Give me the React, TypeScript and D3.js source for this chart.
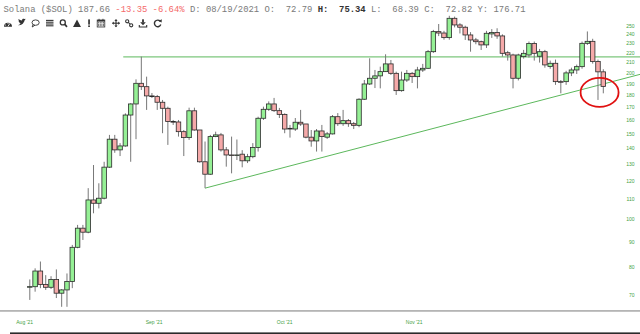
import React from "react";
import * as d3 from "d3";

// Daily OHLC, SOL/USD, starting 08/19/2021
const open = [
  72.79, 72.8, 78.4, 73.6, 72.6, 75.3, 70.6, 71.7, 74.6, 87.7,
  96.0, 94.2, 109.7, 108.0, 110.6, 128.1, 146.2, 139.0, 141.6, 163.9,
  172.7, 190.4, 187.4, 179.4, 178.8, 174.1, 169.2, 158.9, 158.6, 151.5,
  147.3, 167.2, 152.7, 131.4, 123.9, 148.0, 149.2, 139.0, 135.7, 135.5,
  136.2, 132.0, 134.6, 140.6, 161.4, 168.4, 172.7, 167.3, 164.4, 153.4,
  153.4, 158.4, 157.1, 147.6, 145.0, 152.0, 147.6, 149.9, 162.6, 157.3,
  159.6, 157.3, 156.1, 176.6, 189.8, 195.0, 197.2, 201.2, 208.7, 199.6,
  183.9, 193.4, 199.6, 196.5, 202.8, 204.4, 221.1, 243.1, 241.5, 236.3,
  258.9, 250.9, 248.2, 239.3, 233.7, 231.8, 228.3, 240.5, 242.0, 238.2,
  220.0, 217.7, 195.0, 216.0, 217.7, 229.9, 216.4, 221.1, 206.1, 209.3,
  191.9, 191.9, 200.0, 202.8, 206.0, 230.0, 232.2, 211.1, 201.01,
];
const high = [
  75.34, 79.4, 82.0, 76.9, 76.5, 79.0, 72.0, 77.5, 88.7, 97.5,
  97.5, 116.0, 129.4, 118.7, 131.4, 149.2, 149.2, 143.5, 165.2, 173.3,
  194.0, 216.0, 196.5, 181.9, 180.2, 176.0, 170.5, 160.1, 160.1, 152.7,
  169.7, 169.7, 152.7, 144.6, 149.2, 151.5, 150.6, 140.9, 148.0, 146.0,
  138.8, 136.4, 143.5, 162.6, 170.5, 174.8, 177.7, 169.5, 165.2, 156.4,
  161.6, 167.9, 157.1, 152.7, 153.4, 156.4, 151.3, 163.9, 165.4, 167.9,
  160.8, 158.6, 177.4, 193.4, 214.3, 202.8, 206.0, 218.4, 212.6, 201.2,
  201.2, 202.8, 200.9, 205.8, 208.7, 222.9, 245.1, 252.0, 244.0, 262.0,
  261.0, 253.0, 250.0, 242.5, 236.0, 233.0, 244.0, 246.0, 247.0, 240.0,
  222.0, 219.0, 219.0, 223.0, 232.0, 232.0, 224.0, 223.0, 212.0, 213.0,
  193.4, 202.0, 205.0, 208.0, 232.0, 243.3, 235.0, 213.0, 203.5,
];
const low = [
  68.39, 71.1, 72.3, 71.7, 72.0, 69.0, 66.2, 66.2, 72.3, 87.3,
  90.8, 93.7, 103.0, 105.4, 110.0, 127.6, 137.1, 135.0, 141.1, 131.4,
  146.2, 184.5, 167.9, 177.6, 167.9, 150.4, 142.3, 156.4, 148.0, 135.0,
  145.7, 152.2, 130.8, 116.0, 123.5, 147.6, 137.9, 128.4, 124.4, 132.5,
  128.0, 130.6, 133.6, 137.9, 160.1, 167.1, 166.3, 161.6, 150.4, 147.3,
  152.0, 155.7, 146.8, 141.1, 137.9, 137.9, 146.4, 149.5, 155.7, 155.7,
  155.0, 153.4, 154.7, 176.0, 188.9, 186.2, 185.9, 200.9, 198.1, 180.2,
  183.0, 191.6, 190.7, 185.9, 200.9, 203.8, 219.8, 238.0, 234.0, 234.0,
  248.0, 241.0, 233.7, 221.1, 229.0, 222.9, 225.0, 236.0, 235.0, 216.0,
  212.0, 185.9, 193.0, 214.0, 215.0, 212.0, 210.0, 205.0, 204.0, 189.0,
  181.6, 189.0, 197.0, 199.0, 204.0, 228.3, 209.0, 176.0, 181.6,
];
const close = [
  72.82, 78.4, 73.6, 72.6, 75.3, 70.6, 71.7, 74.6, 87.7, 96.0,
  94.2, 109.7, 108.0, 110.6, 128.1, 146.2, 139.0, 141.6, 163.9, 172.7,
  190.4, 187.4, 179.4, 178.8, 174.1, 169.2, 158.9, 158.6, 151.5, 147.3,
  167.2, 152.7, 131.4, 123.9, 148.0, 149.2, 139.0, 135.7, 135.5, 135.7,
  132.0, 134.6, 140.6, 161.4, 168.4, 172.7, 167.3, 164.4, 153.4, 153.9,
  158.4, 157.1, 147.6, 145.0, 152.0, 148.0, 149.9, 162.6, 157.3, 159.6,
  157.3, 156.1, 176.6, 189.8, 195.0, 197.2, 201.2, 208.7, 199.6, 183.9,
  193.4, 199.6, 196.5, 202.8, 204.4, 221.1, 243.1, 241.5, 236.3, 258.9,
  250.9, 248.2, 239.3, 233.7, 231.8, 228.3, 241.2, 242.0, 238.2, 219.4,
  217.7, 195.0, 217.7, 219.4, 229.9, 219.4, 221.1, 207.7, 209.3, 191.9,
  191.6, 200.0, 202.8, 206.0, 230.0, 232.2, 211.1, 201.01, 187.66,
];

const yTicks = [70, 80, 90, 100, 110, 120, 130, 140, 150, 160, 170, 180, 190, 200, 210, 220, 230, 240, 250];
const xTickLabels = ["Aug '21", "Sep '21", "Oct '21", "Nov '21"];
const xTickIdx = [-0.96, 23.4, 48.0, 72.4];

// annotations (candle index, price)
const resistance = { from: 17.6, price: 215.7 };
const trendPts = [
  { i: 33, v: 116.0 },
  { i: 100, v: 180.1 },
];
const circleAt = { i: 107.3, v: 182.4 };

const header = {
  name: "Solana ($SOL)",
  last: 187.66,
  chg: -13.35,
  pct: -6.64,
  date: "08/19/2021",
  prevY: 176.71,
};

const W = 640;
const H = 334;

export default function App() {
  const x = d3.scaleLinear().domain([0, open.length - 1]).range([29.8, 603.3]);
  const y = d3.scaleLog().domain([70, 250]).range([295, 25.7]);
  const bw = 4.5;

  // trend line extended to right edge
  const p1 = [x(trendPts[0].i), y(trendPts[0].v)];
  const p2 = [x(trendPts[1].i), y(trendPts[1].v)];
  const slope = (p2[1] - p1[1]) / (p2[0] - p1[0]);
  const tEndY = p1[1] + slope * (W - p1[0]);

  const green = "#95f095";
  const red = "#f5a9a9";
  const axisCol = "#3f9f3f";
  const lineCol = "#5cb85c";

  const f2 = (v: number) => v.toFixed(2);

  return (
    <svg
      width={W}
      height={H}
      style={{ position: "absolute", left: 0, top: 0, background: "#fff" }}
    >
      <rect x={0} y={0} width={W} height={H} fill="#fff" />
      {/* header */}
      <text
        x={3.5}
        y={11.5}
        fontFamily="'Liberation Mono', 'DejaVu Sans Mono', monospace"
        fontSize={8.9}
        fill="#7a7a7a"
        style={{ whiteSpace: "pre" }}
      >
        <tspan>{`${header.name} ${f2(header.last)} `}</tspan>
        <tspan fill="#f46a6a">{`${f2(header.chg)} ${f2(header.pct)}%`}</tspan>
        <tspan>{` D: ${header.date} O:  ${f2(open[0])} `}</tspan>
        <tspan fontWeight="bold" fill="#333">{`H:  ${f2(high[0])}`}</tspan>
        <tspan>{` L:  ${f2(low[0])} C:  ${f2(close[0])} Y: ${f2(header.prevY)}`}</tspan>
      </text>

      {/* toolbar icons */}
      <g fill="#333" stroke="none">
        {/* gauge */}
        <path d="M4,26.8 A4,4 0 0 1 12,26.8 Z" />
        <line x1={8} y1={26.3} x2={10} y2={23.3} stroke="#fff" strokeWidth={0.9} />
        <circle cx={5.6} cy={25} r={0.5} fill="#fff" />
        <circle cx={8} cy={23.6} r={0.5} fill="#fff" />
        {/* twitter */}
        <path d="M18,25.2 C20.2,25.6 22.6,24.6 23.6,22.6 C24.3,21.4 24.6,20.6 24.6,20.2 L25.8,19.6 L24.9,19.4 L25.5,18.8 L24.3,19.1 C23.5,18.4 21.9,18.8 22,20.4 C20.6,20.3 19.4,19.7 18.6,18.9 C18.2,19.8 18.6,20.7 19.2,21.1 L18.6,21 C18.7,21.9 19.3,22.3 19.9,22.5 L19.3,22.6 C19.6,23.3 20.2,23.5 20.8,23.6 C20.1,24.4 19,24.9 18,25.2 Z" />
        {/* speech bubble */}
        <ellipse cx={35.6} cy={22.6} rx={3.6} ry={2.7} fill="none" stroke="#333" strokeWidth={0.9} />
        <path d="M33,24.6 L32.2,27 L35,25.2" fill="none" stroke="#333" strokeWidth={0.9} />
        {/* list */}
        {[20.4, 22.2, 24.0, 25.8].map((yy) => (
          <rect key={yy} x={46} y={yy - 0.55} width={7.5} height={1.1} />
        ))}
        {/* magnifier */}
        <circle cx={62.8} cy={22.4} r={2.5} fill="none" stroke="#333" strokeWidth={1.3} />
        <line x1={64.6} y1={24.2} x2={67} y2={26.8} stroke="#333" strokeWidth={1.7} />
        {/* triangle */}
        <path d="M73,27 L77,19.4 L81,27 Z" />
        {/* exclamation */}
        <rect x={88.2} y={19.4} width={1.7} height={5.2} />
        <rect x={88.2} y={25.4} width={1.7} height={1.6} />
        {/* calendar */}
        <rect x={97.2} y={20} width={7.6} height={7} fill="none" stroke="#333" strokeWidth={0.8} />
        <rect x={97.2} y={20} width={7.6} height={1.6} />
        <rect x={98.6} y={18.8} width={0.9} height={1.8} />
        <rect x={102.5} y={18.8} width={0.9} height={1.8} />
        {[0, 1, 2].map((r) =>
          [0, 1, 2, 3].map((c) => (
            <rect key={`${r}-${c}`} x={98.1 + c * 1.65} y={22.3 + r * 1.5} width={1} height={0.9} />
          ))
        )}
        {/* move */}
        <line x1={112.5} y1={23.2} x2={119.5} y2={23.2} stroke="#333" strokeWidth={1.1} />
        <line x1={116} y1={19.6} x2={116} y2={26.8} stroke="#333" strokeWidth={1.1} />
        <path d="M112,23.2 L113.8,21.6 L113.8,24.8 Z" />
        <path d="M120,23.2 L118.2,21.6 L118.2,24.8 Z" />
        <path d="M116,19.2 L114.4,21 L117.6,21 Z" />
        <path d="M116,27.2 L114.4,25.4 L117.6,25.4 Z" />
        {/* link */}
        <circle cx={127.2} cy={21.3} r={1.6} fill="none" stroke="#333" strokeWidth={1.1} />
        <circle cx={131.2} cy={25.3} r={1.6} fill="none" stroke="#333" strokeWidth={1.1} />
        <line x1={128.3} y1={22.4} x2={130.1} y2={24.2} stroke="#333" strokeWidth={1.1} />
        {/* download */}
        <rect x={142.1} y={19.3} width={1.8} height={3.2} />
        <path d="M140.2,22.3 L145.8,22.3 L143,25.2 Z" />
        <path d="M139.3,25 L139.3,27 L146.7,27 L146.7,25" fill="none" stroke="#333" strokeWidth={1.1} />
        {/* refresh */}
        <path d="M160.2,21.2 A3.3,3.3 0 1 0 160.8,24.6" fill="none" stroke="#333" strokeWidth={1.4} />
        <path d="M158.5,20.9 L161.8,19.2 L161.6,22.6 Z" />
      </g>

      {/* resistance line */}
      <line
        x1={x(resistance.from)}
        x2={W}
        y1={y(resistance.price)}
        y2={y(resistance.price)}
        stroke={lineCol}
        strokeWidth={1}
      />
      {/* trend line */}
      <line x1={p1[0]} y1={p1[1]} x2={W} y2={tEndY} stroke={lineCol} strokeWidth={1} />

      {/* candles */}
      <g>
        {open.map((o, i) => {
          const c = close[i];
          const cx = x(i);
          const up = c >= o;
          const top = y(Math.max(o, c));
          const bot = y(Math.min(o, c));
          return (
            <g key={i}>
              <line
                x1={cx}
                x2={cx}
                y1={y(high[i])}
                y2={y(low[i])}
                stroke="#777"
                strokeWidth={1}
              />
              <rect
                x={cx - bw / 2}
                y={top}
                width={bw}
                height={Math.max(bot - top, 0.6)}
                fill={up ? green : red}
                stroke="#2a2a2a"
                strokeWidth={0.8}
              />
            </g>
          );
        })}
      </g>

      {/* y axis labels */}
      <g fontFamily="'Liberation Sans', Arial, sans-serif" fontSize={5} fill={axisCol}>
        {yTicks.map((t) => (
          <text key={t} x={634.5} y={y(t) + 1.8} textAnchor="end">
            {t}
          </text>
        ))}
      </g>

      {/* bottom axis */}
      <rect x={0} y={310} width={W} height={1.8} fill="#b5b5b5" />
      <g fontFamily="'Liberation Sans', Arial, sans-serif" fontSize={5} fill={axisCol}>
        {xTickLabels.map((l, k) => (
          <text key={l} x={x(xTickIdx[k])} y={323.5} textAnchor="middle">
            {l}
          </text>
        ))}
      </g>
      <rect x={10} y={332.4} width={W - 10} height={1.6} fill="#2b2b2b" />

      {/* highlight circle */}
      <ellipse
        cx={x(circleAt.i)}
        cy={y(circleAt.v)}
        rx={19}
        ry={14.5}
        fill="none"
        stroke="#e01010"
        strokeWidth={1.8}
      />
    </svg>
  );
}
